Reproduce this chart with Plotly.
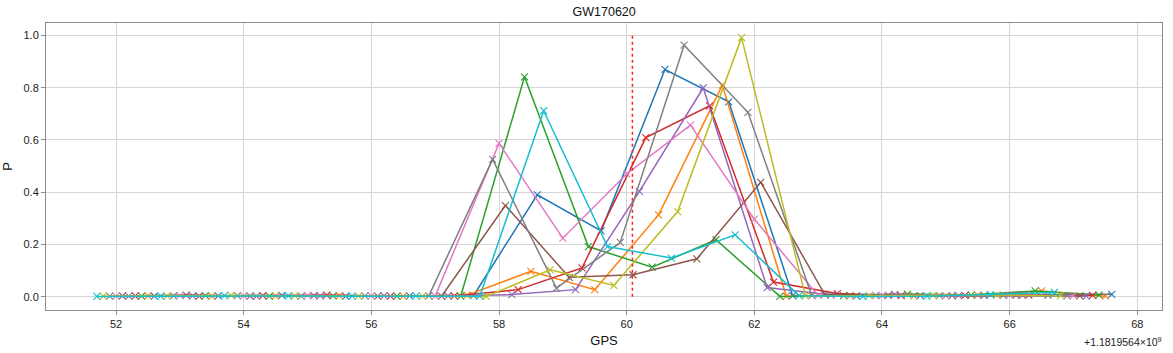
import plotly.graph_objects as go

# GPS offset (axis shows values relative to 1181956400)
gps_offset_label = "+1.1819564×10<sup>9</sup>"
event_time = 60.09

# x positions: each series sampled every 1 s, shifted by 0.1 s per series
x_blue   = [52.6, 53.6, 54.6, 55.6, 56.6, 57.6, 58.6, 59.6, 60.6, 61.6, 62.6, 63.6, 64.6, 65.6, 66.6, 67.6]
x_orange = [52.5, 53.5, 54.5, 55.5, 56.5, 57.5, 58.5, 59.5, 60.5, 61.5, 62.5, 63.5, 64.5, 65.5, 66.5, 67.5]
x_green  = [52.4, 53.4, 54.4, 55.4, 56.4, 57.4, 58.4, 59.4, 60.4, 61.4, 62.4, 63.4, 64.4, 65.4, 66.4, 67.4]
x_red    = [52.3, 53.3, 54.3, 55.3, 56.3, 57.3, 58.3, 59.3, 60.3, 61.3, 62.3, 63.3, 64.3, 65.3, 66.3, 67.3]
x_purple = [52.2, 53.2, 54.2, 55.2, 56.2, 57.2, 58.2, 59.2, 60.2, 61.2, 62.2, 63.2, 64.2, 65.2, 66.2, 67.2]
x_brown  = [52.1, 53.1, 54.1, 55.1, 56.1, 57.1, 58.1, 59.1, 60.1, 61.1, 62.1, 63.1, 64.1, 65.1, 66.1, 67.1]
x_pink   = [52.0, 53.0, 54.0, 55.0, 56.0, 57.0, 58.0, 59.0, 60.0, 61.0, 62.0, 63.0, 64.0, 65.0, 66.0, 67.0]
x_gray   = [51.9, 52.9, 53.9, 54.9, 55.9, 56.9, 57.9, 58.9, 59.9, 60.9, 61.9, 62.9, 63.9, 64.9, 65.9, 66.9]
x_olive  = [51.8, 52.8, 53.8, 54.8, 55.8, 56.8, 57.8, 58.8, 59.8, 60.8, 61.8, 62.8, 63.8, 64.8, 65.8, 66.8]
x_cyan   = [51.7, 52.7, 53.7, 54.7, 55.7, 56.7, 57.7, 58.7, 59.7, 60.7, 61.7, 62.7, 63.7, 64.7, 65.7, 66.7]

p_blue   = [0.002, 0.003, 0.005, 0.002, 0.003, 0.004, 0.390, 0.252, 0.870, 0.746, 0.004, 0.003, 0.004, 0.005, 0.006, 0.009]
p_orange = [0.003, 0.002, 0.003, 0.004, 0.002, 0.006, 0.097, 0.027, 0.313, 0.810, 0.002, 0.004, 0.003, 0.006, 0.022, 0.002]
p_green  = [0.002, 0.004, 0.002, 0.003, 0.002, 0.002, 0.842, 0.192, 0.113, 0.218, 0.001, 0.004, 0.010, 0.006, 0.022, 0.006]
p_red    = [0.003, 0.002, 0.004, 0.006, 0.002, 0.003, 0.027, 0.110, 0.609, 0.731, 0.056, 0.012, 0.004, 0.005, 0.006, 0.005]
p_purple = [0.002, 0.003, 0.002, 0.003, 0.004, 0.003, 0.008, 0.027, 0.403, 0.800, 0.035, 0.006, 0.009, 0.004, 0.005, 0.002]
p_brown  = [0.003, 0.006, 0.002, 0.004, 0.002, 0.002, 0.349, 0.074, 0.084, 0.145, 0.438, 0.010, 0.005, 0.004, 0.006, 0.003]
p_pink   = [0.002, 0.004, 0.003, 0.005, 0.003, 0.002, 0.587, 0.224, 0.470, 0.657, 0.297, 0.005, 0.004, 0.003, 0.006, 0.004]
p_gray   = [0.002, 0.003, 0.004, 0.002, 0.003, 0.003, 0.526, 0.033, 0.208, 0.963, 0.706, 0.004, 0.005, 0.004, 0.005, 0.003]
p_olive  = [0.002, 0.003, 0.005, 0.003, 0.002, 0.002, 0.001, 0.103, 0.043, 0.326, 0.992, 0.003, 0.004, 0.005, 0.006, 0.004]
p_cyan   = [0.001, 0.002, 0.004, 0.003, 0.002, 0.003, 0.002, 0.712, 0.192, 0.148, 0.237, 0.004, 0.001, 0.002, 0.008, 0.016]

series = [
    (x_blue, p_blue, "#1f77b4"),
    (x_orange, p_orange, "#ff7f0e"),
    (x_green, p_green, "#2ca02c"),
    (x_red, p_red, "#d62728"),
    (x_purple, p_purple, "#9467bd"),
    (x_brown, p_brown, "#8c564b"),
    (x_pink, p_pink, "#e377c2"),
    (x_gray, p_gray, "#7f7f7f"),
    (x_olive, p_olive, "#bcbd22"),
    (x_cyan, p_cyan, "#17becf"),
]

x_ticks = [52, 54, 56, 58, 60, 62, 64, 66, 68]
y_ticks = [0.0, 0.2, 0.4, 0.6, 0.8, 1.0]

fig = go.Figure()

for xs, ps, col in series:
    fig.add_trace(go.Scatter(
        x=xs, y=ps, mode="lines+markers",
        line=dict(color=col, width=1.5),
        marker=dict(symbol="x-thin", size=7, line=dict(color=col, width=1.1), color=col),
        showlegend=False))

# event marker (red dotted vertical line)
fig.add_trace(go.Scatter(
    x=[event_time, event_time], y=[0, 1], mode="lines",
    line=dict(color="#ff2020", width=1.5, dash="dot"), hoverinfo="skip", showlegend=False))

font_family = "Liberation Sans, Arial, sans-serif"
axis_common = dict(
    showline=True, linecolor="#8c8c8c", linewidth=1, mirror=True,
    showgrid=True, gridcolor="#d6d6d6", gridwidth=1,
    ticks="outside", ticklen=4, tickcolor="#8c8c8c", tickwidth=1,
    zeroline=False, automargin=False,
    tickfont=dict(family=font_family, size=11, color="#222222"),
)

fig.update_layout(
    width=1173, height=353,
    margin=dict(l=46, r=11, t=23, b=43),
    paper_bgcolor="white", plot_bgcolor="white",
    title=dict(text="GW170620", x=(46.3 + 1162) / 2 / 1173, xanchor="center",
               y=1 - 12 / 353, yanchor="middle",
               font=dict(family=font_family, size=12.5, color="#111111")),
    xaxis=dict(range=[50.903, 68.387], tickvals=x_ticks, ticktext=[str(t) for t in x_ticks],
               title=dict(text="GPS", font=dict(family=font_family, size=13, color="#111111"), standoff=6),
               **axis_common),
    yaxis=dict(range=[-0.051, 1.048], tickvals=y_ticks, ticktext=[f"{t:.1f}" for t in y_ticks],
               title=dict(text="P", font=dict(family=font_family, size=13, color="#111111"), standoff=10),
               **axis_common),
    annotations=[dict(text=gps_offset_label, xref="paper", yref="paper", x=1.0, y=0, xanchor="right",
                      yanchor="top", yshift=-23, xshift=2, showarrow=False,
                      font=dict(family=font_family, size=10.5, color="#222222"))],
)

fig.write_html("out.html")
